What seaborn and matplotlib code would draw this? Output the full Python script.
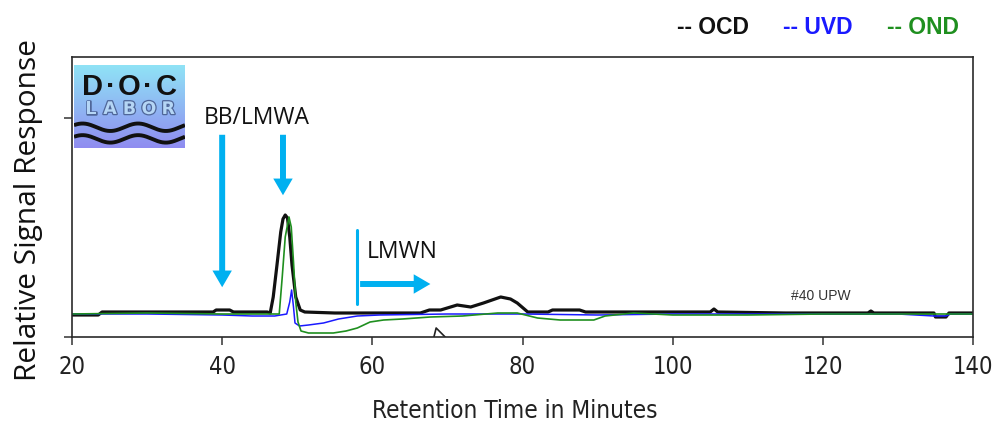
import numpy as np
import pandas as pd
import matplotlib
matplotlib.use("Agg")
import matplotlib.pyplot as plt
import seaborn as sns
from matplotlib import font_manager as fm
from matplotlib.patches import FancyArrowPatch
import matplotlib.patheffects as pe

# Retention time (min) and relative detector response for each detector
ocd_time = [20, 23.5, 24, 30, 36, 38.8, 39.2, 41, 41.5, 46.0, 46.4, 46.8, 47.3, 47.8, 48.1,
            48.4, 48.7, 49.0, 49.3, 49.8, 50.4, 51.0, 55, 60, 66.4, 67.6, 69.1, 71.3, 73.1,
            74.8, 77.1, 78.4, 79.3, 80.7, 83.4, 84.0, 87.6, 88.4, 95, 105.0, 105.5, 106.0,
            115, 126.0, 126.4, 126.8, 134.8, 135.0, 136.4, 136.8, 140]
ocd_signal = [22, 22, 25, 25, 25, 25, 27, 27, 25, 25, 24, 40, 72, 105, 118,
              122, 119, 100, 72, 40, 27, 25, 24, 24, 24, 27, 27, 32, 30,
              34, 40, 38, 34, 25, 25, 27, 27, 25, 25, 25, 28, 25,
              24, 24, 26, 24, 24, 20, 20, 24, 24]

uvd_time = [20, 30, 40, 44, 47.0, 48.6, 49.0, 49.25, 49.5, 49.7, 50.3, 51.5, 53.5, 55.5,
            58.0, 61.0, 70, 80, 90, 100, 110, 120, 130, 134.8, 136.4, 137, 140]
uvd_signal = [23, 23, 22, 21, 21, 23, 35, 47, 30, 14, 11, 12, 14, 18,
              21, 22, 23, 23, 22, 23, 23, 23, 23, 21, 21, 23, 23]

ond_time = [20, 30, 40, 47.0, 47.6, 48.0, 48.4, 48.9, 49.2, 49.5, 49.8, 50.1, 50.5, 51.5,
            54.8, 56.5, 58.0, 59.7, 61.5, 64.0, 67.7, 72.0, 76.7, 79.3, 82.0, 85.0, 89.5,
            91.0, 94.8, 100, 110, 120, 130, 140]
ond_signal = [23, 24, 23, 23, 23, 60, 100, 120, 110, 75, 35, 15, 6, 4,
              4, 6, 9, 15, 17, 18, 20, 21, 24, 24, 19, 17, 17,
              21, 24, 22, 22, 23, 23, 23]

x_ticks = [20, 40, 60, 80, 100, 120, 140]
detectors = ["OCD", "UVD", "OND"]
colors = {"OCD": "#111111", "UVD": "#1a1aff", "OND": "#1f8f1f"}
widths = {"OCD": 2.3, "UVD": 1.1, "OND": 1.2}

frames = []
for name, t, s in [("OCD", ocd_time, ocd_signal),
                   ("UVD", uvd_time, uvd_signal),
                   ("OND", ond_time, ond_signal)]:
    frames.append(pd.DataFrame({"time": t, "signal": s, "detector": name}))
df = pd.concat(frames, ignore_index=True)

sns.set_style("white")
plt.rcParams["font.family"] = ["Liberation Sans", "DejaVu Sans"]

# narrow face for the axis numbers and axis title
installed = fm.fontManager.ttflist
if any(f.name == "Liberation Sans Narrow" for f in installed):
    narrow = dict(family=["Liberation Sans Narrow", "DejaVu Sans"])
elif any(f.name == "DejaVu Sans" and f.stretch == "condensed" for f in installed):
    narrow = dict(family=["DejaVu Sans"], fontstretch="condensed")
else:
    narrow = dict(family=["Liberation Sans", "DejaVu Sans"])

fig = plt.figure(figsize=(9.92, 4.23), dpi=100)
ax = fig.add_axes([72 / 992, 1 - 337 / 423, 901 / 992, 280 / 423])

for name in detectors:
    sns.lineplot(data=df[df["detector"] == name], x="time", y="signal", ax=ax,
                 color=colors[name], linewidth=widths[name], legend=False,
                 estimator=None, sort=False)

ax.set_xlim(20, 140)
ax.set_ylim(0, 280)
ax.set_xticks(x_ticks)
ax.set_xticklabels([str(v) for v in x_ticks], fontsize=17, color="#222222", **narrow)
ax.set_yticks([0, 219])
ax.set_yticklabels(["", ""])
ax.tick_params(axis="both", direction="out", length=6, width=1.1, color="#333333",
               bottom=True, left=True, pad=7)
for sp in ax.spines.values():
    sp.set_color("#2a2a2a")
    sp.set_linewidth(1.2)

ax.set_xlabel("Retention Time in Minutes", fontsize=17.5, color="#222222", **narrow)
ax.xaxis.set_label_coords(0.491, -0.222)
ax.set_ylabel("Relative Signal Response", fontsize=21.5, family=["Open Sans", "DejaVu Sans"],
              color="#111111")
ax.yaxis.set_label_coords(-0.032, 0.455)

# annotation arrows
arrow_color = "#00b0f0"
style = "simple,head_length=12,head_width=14,tail_width=4.3"
for tail, tip in [((40, 205), (40, 47)), ((48.1, 205), (48.1, 139)), ((58.0, 53), (68.1, 53))]:
    ax.add_patch(FancyArrowPatch(tail, tip, arrowstyle=style, mutation_scale=1,
                                 color=arrow_color, lw=0, zorder=5))
ax.plot([57.9, 57.9], [33, 107], color=arrow_color, lw=2.2, zorder=5)

ax.text(37.5, 219, "BB/LMWA", fontsize=16.5, family=["Open Sans", "DejaVu Sans"],
        va="center", ha="left", color="#111111")
ax.text(59.2, 85, "LMWN", fontsize=16.5, family=["Open Sans", "DejaVu Sans"],
        va="center", ha="left", color="#111111")
ax.text(115.7, 41, "#40 UPW", fontsize=10, family=["Liberation Sans", "DejaVu Sans"],
        va="center", ha="left", color="#333333")

# small marker on the baseline
ax.plot([68.2, 68.5, 69.7], [0, 9, 0], color="#222222", lw=1.2)

# detector key
for label, name, xpx in [("-- OCD", "OCD", 677), ("-- UVD", "UVD", 783), ("-- OND", "OND", 887)]:
    fig.text(xpx / 992, 1 - 28 / 423, label, fontsize=16.5, fontweight="bold",
             family=["Liberation Sans", "DejaVu Sans"], color=colors[name],
             ha="left", va="center")

# lab logo
lax = fig.add_axes([74 / 992, 1 - 148 / 423, 111 / 992, 83 / 423])
grad = np.linspace(0, 1, 100).reshape(-1, 1)
cmap = matplotlib.colors.LinearSegmentedColormap.from_list("logo", ["#8fe3f6", "#8f8cf0"])
lax.imshow(grad, extent=[0, 1, 0, 1], aspect="auto", cmap=cmap, origin="upper")
lax.set_xlim(0, 1)
lax.set_ylim(0, 1)
lax.axis("off")
for i, ch in enumerate(["D", "·", "O", "·", "C"]):
    lax.text(0.17 + i * 0.165, 0.73, ch, fontsize=21, fontweight="bold", ha="center",
             va="center", family=["Liberation Sans", "DejaVu Sans"], color="#111111")
for i, ch in enumerate("LABOR"):
    lax.text(0.15 + i * 0.175, 0.47, ch, fontsize=12.5, fontweight="bold", ha="center",
             va="center", family=["DejaVu Sans"], color="#b5d6f5",
             path_effects=[pe.withStroke(linewidth=1.8, foreground="#4f6698")])
wx = np.linspace(0, 1, 200)
for y0 in (0.25, 0.11):
    lax.plot(wx, y0 + 0.045 * np.sin(2 * np.pi * 2 * wx + 0.6), color="#111111", lw=2.8,
             solid_capstyle="butt")

fig.savefig("out.png", dpi=100)
